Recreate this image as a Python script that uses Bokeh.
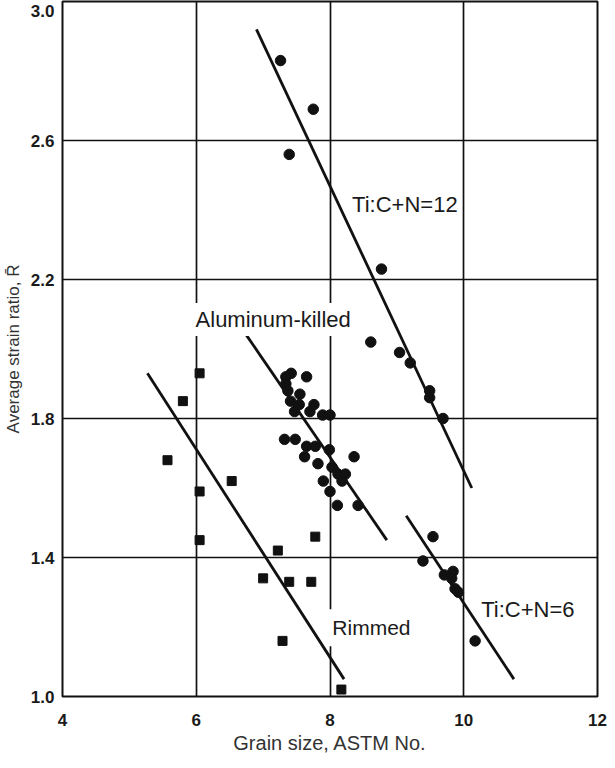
from bokeh.plotting import figure
from bokeh.models import Range1d, Label, FixedTicker
from bokeh.embed import file_html
from bokeh.resources import INLINE

# ---- data ----
ti12_x = [7.26, 7.75, 7.39, 8.77, 8.61, 9.04, 9.20, 9.49, 9.49, 9.69]
ti12_y = [2.83, 2.69, 2.56, 2.23, 2.02, 1.99, 1.96, 1.88, 1.86, 1.80]

al_x = [7.42, 7.34, 7.65, 7.34, 7.37, 7.55, 7.41, 7.54, 7.76, 7.47, 7.70, 7.89, 8.00,
        7.32, 7.48, 7.65, 7.78, 7.99, 8.36, 7.62, 7.82, 8.03, 8.12, 8.23, 8.18, 7.90,
        8.00, 8.11, 8.42]
al_y = [1.93, 1.92, 1.92, 1.90, 1.88, 1.87, 1.85, 1.84, 1.84, 1.82, 1.82, 1.81, 1.81,
        1.74, 1.74, 1.72, 1.72, 1.71, 1.69, 1.69, 1.67, 1.66, 1.64, 1.64, 1.62, 1.62,
        1.59, 1.55, 1.55]

ti6_x = [9.54, 9.39, 9.84, 9.71, 9.82, 9.87, 9.92, 10.17]
ti6_y = [1.46, 1.39, 1.36, 1.35, 1.34, 1.31, 1.30, 1.16]

rim_x = [6.05, 5.80, 5.57, 6.53, 6.05, 6.05, 7.78, 7.22, 7.00, 7.39, 7.72, 7.29, 8.17]
rim_y = [1.93, 1.85, 1.68, 1.62, 1.59, 1.45, 1.46, 1.42, 1.34, 1.33, 1.33, 1.16, 1.02]

# trend lines (end points)
ti12_line_x = [6.90, 10.12]
ti12_line_y = [2.92, 1.60]
al_line_x = [6.75, 8.85]
al_line_y = [2.04, 1.45]
ti6_line_x = [9.14, 10.75]
ti6_line_y = [1.52, 1.05]
rim_line_x = [5.27, 8.21]
rim_line_y = [1.93, 1.05]

x_ticks = [4, 6, 8, 10, 12]
x_tick_labels = ["4", "6", "8", "10", "12"]
y_ticks = [1.0, 1.4, 1.8, 2.2, 2.6, 3.0]
y_tick_labels = ["1.0", "1.4", "1.8", "2.2", "2.6", "3.0"]

FONT = "Liberation Sans"
INK = "#111111"
TICK_SIZE = "17px"

p = figure(width=607, height=760, x_range=Range1d(4, 12), y_range=Range1d(1.0, 3.0),
           output_backend="svg", toolbar_location=None,
           min_border_left=59, min_border_right=10, min_border_top=1, min_border_bottom=64)

p.background_fill_color = "white"
p.border_fill_color = "white"
p.outline_line_color = INK
p.outline_line_width = 2

for ax in (p.xaxis[0], p.yaxis[0]):
    ax.axis_line_color = None
    ax.major_tick_line_color = None
    ax.minor_tick_line_color = None
    ax.major_tick_out = 0
    ax.major_tick_in = 0
    ax.major_label_text_font = FONT
    ax.major_label_text_font_size = TICK_SIZE
    ax.major_label_text_font_style = "bold"
    ax.major_label_text_color = "#1a1a1a"
    ax.axis_label_text_font = FONT
    ax.axis_label_text_font_style = "normal"
    ax.axis_label_text_color = "#333333"

p.xaxis.ticker = FixedTicker(ticks=x_ticks)
p.xaxis.major_label_overrides = dict(zip(x_ticks, x_tick_labels))

# In the reference the top label "3.0" sits just under the top frame edge,
# so its label is placed a hair below the 3.0 line (the grid keeps the true ticks).
y_label_pos = y_ticks[:-1] + [y_ticks[-1] - 0.028]
p.yaxis.ticker = FixedTicker(ticks=y_label_pos)
p.yaxis.major_label_overrides = dict(zip(y_label_pos, y_tick_labels))

p.xaxis.axis_label = "Grain size, ASTM No."
p.xaxis.axis_label_text_font_size = "20px"
p.xaxis.major_label_standoff = 17
p.xaxis.axis_label_standoff = 3

p.yaxis.axis_label = "Average strain ratio, R\u0304"
p.yaxis.axis_label_text_font_size = "17px"
p.yaxis.major_label_standoff = 8
p.yaxis.axis_label_standoff = 5

p.xgrid.ticker = FixedTicker(ticks=x_ticks)
p.ygrid.ticker = FixedTicker(ticks=y_ticks)
for g in (p.xgrid[0], p.ygrid[0]):
    g.grid_line_color = INK
    g.grid_line_width = 1.7
    g.grid_line_alpha = 1.0

# trend lines
for lx, ly in ((ti12_line_x, ti12_line_y), (al_line_x, al_line_y),
               (ti6_line_x, ti6_line_y), (rim_line_x, rim_line_y)):
    p.line(lx, ly, line_color=INK, line_width=2.8)

# points
p.scatter(ti12_x, ti12_y, marker="circle", size=10.5, fill_color=INK, line_color=INK)
p.scatter(al_x, al_y, marker="circle", size=10.5, fill_color=INK, line_color=INK)
p.scatter(ti6_x, ti6_y, marker="circle", size=10.5, fill_color=INK, line_color=INK)
p.scatter(rim_x, rim_y, marker="square", size=9, fill_color=INK, line_color=INK)

label_style = dict(text_font=FONT, text_color="#1a1a1a", text_baseline="middle")
p.add_layout(Label(x=8.33, y=2.415, text="Ti:C+N=12", text_font_size="22px", **label_style))
p.add_layout(Label(x=5.93, y=2.085, text="Aluminum-killed", text_font_size="22px",
                   background_fill_color="white", padding=4, **label_style))
p.add_layout(Label(x=7.93, y=1.198, text="Rimmed", text_font_size="21px",
                   background_fill_color="white", padding=7, **label_style))
p.add_layout(Label(x=10.26, y=1.25, text="Ti:C+N=6", text_font_size="22px", **label_style))

open("out.html", "w").write(file_html(p, INLINE))
